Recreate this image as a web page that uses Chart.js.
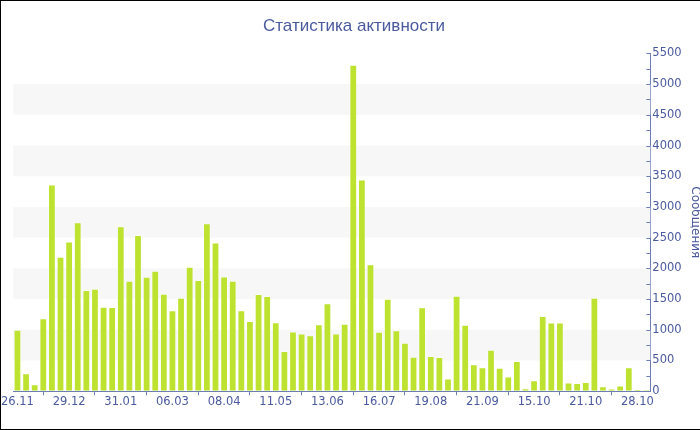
<!DOCTYPE html>
<html>
<head>
<meta charset="utf-8">
<script src="https://cdn.jsdelivr.net/npm/chart.js@4.4.0/dist/chart.umd.min.js"></script>
<style>
  html, body { margin: 0; padding: 0; background: #fff; overflow: hidden; }
  .frame { width: 706px; height: 428px; border: 1px solid #000; border-right: none; position: relative; }
  canvas { display: block; }
</style>
</head>
<body>
<div class="frame"><canvas id="activityChart" width="706" height="428"></canvas></div>
<script>
// tick labels, one per every 6th bar
const tickLabels = ['26.11', '29.12', '31.01', '06.03', '08.04', '11.05', '13.06', '16.07', '19.08', '21.09', '15.10', '21.10', '28.10'];
const tickEvery = 6;

// messages per period
const messages = [
  1000, 292, 113, 1188, 3365, 2188, 2436, 2750, 1647, 1669,
  1377, 1372, 2685, 1799, 2544, 1863, 1961, 1588, 1318, 1523,
  2026, 1810, 2733, 2420, 1869, 1799, 1318, 1145, 1583, 1550,
  1124, 654, 972, 940, 913, 1091, 1431, 940, 1097, 5315,
  3447, 2069, 967, 1507, 994, 789, 562, 1367, 573, 557,
  205, 1556, 1080, 437, 389, 675, 383, 238, 492, 49,
  178, 1226, 1118, 1118, 140, 135, 151, 1523, 81, 43,
  92, 389, 27, 22
];

const blue = '#4a5a9e';
const axisBlue = '#6d7db5';
const categories = messages.map((v, i) => i % tickEvery === 0 ? tickLabels[i / tickEvery] : '');

// alternating bands + inner y ticks like the original
const bandsPlugin = {
  id: 'bands',
  beforeDatasetsDraw(chart) {
    const { ctx, chartArea: a, scales: { y } } = chart;
    ctx.save();
    ctx.fillStyle = '#f7f7f7';
    for (let v = 500; v < 5500; v += 1000) {
      const top = y.getPixelForValue(v + 500), bot = y.getPixelForValue(v);
      ctx.fillRect(a.left, top, a.right - a.left, bot - top);
    }
    ctx.restore();
  },
  afterDraw(chart) {
    const { ctx, scales: { y } } = chart;
    ctx.save();
    ctx.strokeStyle = axisBlue;
    ctx.lineWidth = 1;
    for (let v = 0; v <= 5500; v += 250) {
      const py = Math.round(y.getPixelForValue(v)) + 0.5;
      ctx.beginPath();
      ctx.moveTo(y.left - 4, py);
      ctx.lineTo(y.left, py);
      ctx.stroke();
    }
    ctx.restore();
  }
};

new Chart(document.getElementById('activityChart'), {
  type: 'bar',
  data: {
    labels: categories,
    datasets: [{
      data: messages,
      backgroundColor: '#bde22f',
      borderColor: 'rgba(255,255,255,0.35)',
      borderWidth: 1,
      categoryPercentage: 1,
      barPercentage: 0.9
    }]
  },
  options: {
    responsive: false,
    animation: false,
    layout: { padding: { left: 0, right: 0, top: 4, bottom: 20 } },
    plugins: {
      legend: { display: false },
      tooltip: { enabled: false },
      title: {
        display: true,
        text: 'Статистика активности',
        color: blue,
        font: { family: 'Liberation Sans', size: 17, weight: 'normal' },
        padding: { top: 11, bottom: 17 }
      }
    },
    scales: {
      x: {
        grid: { display: true, drawOnChartArea: false, color: axisBlue, tickLength: 4 },
        border: { color: axisBlue },
        ticks: {
          autoSkip: false,
          maxRotation: 0,
          padding: 0,
          color: blue,
          font: { family: 'DejaVu Sans', size: 11.5 },
          callback: (v, i) => i % tickEvery === 0 ? tickLabels[i / tickEvery] : null
        }
      },
      y: {
        position: 'right',
        min: 0,
        max: 5500,
        grid: { drawOnChartArea: false, drawTicks: false },
        border: { color: axisBlue },
        ticks: {
          stepSize: 500,
          padding: 2,
          color: blue,
          font: { family: 'DejaVu Sans', size: 11.5 },
          callback: v => String(v)
        },
        title: {
          display: true,
          text: 'Сообщения',
          color: blue,
          font: { family: 'DejaVu Sans', size: 12 },
          padding: { top: 5, bottom: 4 }
        }
      }
    }
  },
  plugins: [bandsPlugin]
});
</script>
</body>
</html>
